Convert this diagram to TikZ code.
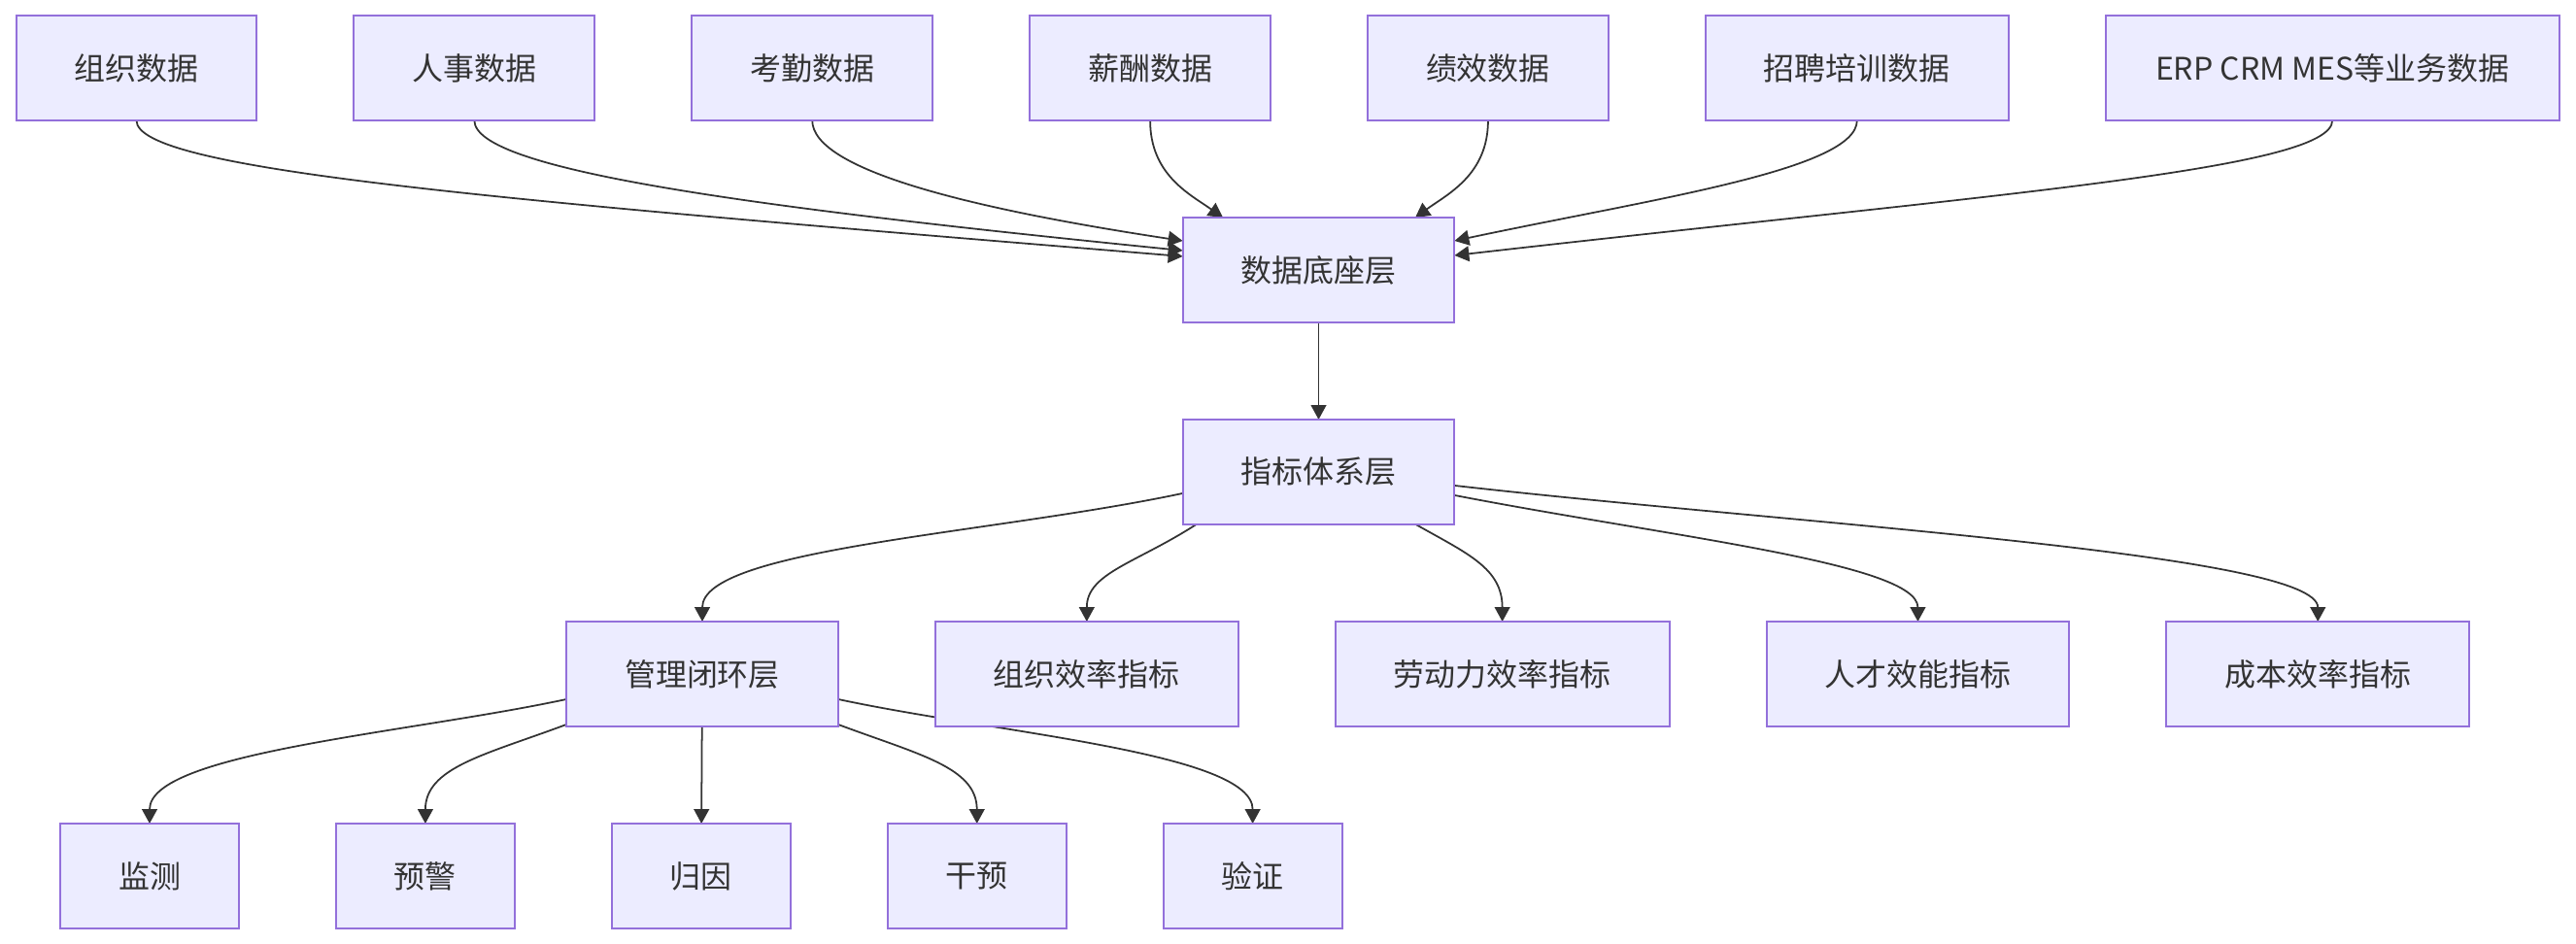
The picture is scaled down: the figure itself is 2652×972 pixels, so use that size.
\documentclass[tikz,border=0pt]{standalone}
\usepackage{fontspec}
\setmainfont{Noto Sans CJK SC}
\usetikzlibrary{arrows.meta, positioning, calc, backgrounds}
\definecolor{boxfill}{HTML}{ECECFF}
\definecolor{boxline}{HTML}{9370DB}
\definecolor{ink}{HTML}{333333}

\begin{document}
\begin{tikzpicture}[
  x=0.02cm, y=-0.02cm,
  node distance=2cm,
  every node/.style={font={\fontsize{18.2pt}{22pt}\selectfont}, text=ink},
  box/.style={draw=boxline, fill=boxfill, line width=1.1pt, minimum height=2.16cm, inner xsep=1.2cm, inner ysep=0pt, outer sep=0pt},
  arr/.style={-{Triangle[length=8.5pt, width=9pt]}, draw=ink, line width=1pt},
]
  \useasboundingbox (0,0) rectangle (2652,972);

  \node[box] (org) at (140.5,70) {组织数据};
  \node[box, right=of org] (hr) {人事数据};
  \node[box, right=of hr] (attend) {考勤数据};
  \node[box, right=of attend] (pay) {薪酬数据};
  \node[box, right=of pay] (perf) {绩效数据};
  \node[box, right=of perf] (recruit) {招聘培训数据};
  \node[box, right=of recruit, inner xsep=0pt, minimum width=9.34cm] (biz) {ERP CRM MES等业务数据};

  \node[box] (base) at (1357.5,278) {数据底座层};
  \node[box, below=of base] (idx) {指标体系层};

  \node[box] (loop) at (723,694) {管理闭环层};
  \node[box, right=of loop] (orgeff) {组织效率指标};
  \node[box, right=of orgeff] (laboreff) {劳动力效率指标};
  \node[box, right=of laboreff] (talent) {人才效能指标};
  \node[box, right=of talent] (cost) {成本效率指标};

  \node[box] (monitor) at (154,902) {监测};
  \node[box, right=of monitor] (alert) {预警};
  \node[box, right=of alert] (cause) {归因};
  \node[box, right=of cause] (act) {干预};
  \node[box, right=of act] (verify) {验证};

  \begin{scope}[on background layer]
    \draw[arr] (org.south) .. controls +(0,51) and +(-718,-59) .. ($(base.west)+(0,-14)$);
    \draw[arr] (hr.south) .. controls +(0,51) and +(-448,-45) .. ($(base.west)+(0,-20)$);
    \draw[arr] (attend.south) .. controls +(0,51) and +(-218,-33) .. ($(base.west)+(0,-30)$);
    \draw[arr] (pay.south) .. controls +(0,56) and +(-34,-24) .. ($(base.north)+(-98.5,0)$);
    \draw[arr] (perf.south) .. controls +(0,56) and +(33,-24) .. ($(base.north)+(99.5,0)$);
    \draw[arr] (recruit.south) .. controls +(0,51) and +(202,-43) .. ($(base.east)+(0,-30)$);
    \draw[arr] (biz.south) .. controls +(0,51) and +(552,-63) .. ($(base.east)+(0,-15)$);

    \draw[arr] (base) -- (idx);

    \draw[arr] ($(idx.west)+(0,22)$) .. controls +(-198,42) and +(0,-75) .. (loop.north);
    \draw[arr] ($(idx.south west)+(14,0)$) .. controls +(-62,40) and +(0,-50) .. (orgeff.north);
    \draw[arr] ($(idx.south)+(100,0)$) .. controls +(53,30) and +(0,-55) .. (laboreff.north);
    \draw[arr] ($(idx.east)+(0,24)$) .. controls +(222,43) and +(0,-60) .. (talent.north);
    \draw[arr] ($(idx.east)+(0,14)$) .. controls +(352,40) and +(0,-70) .. (cost.north);

    \draw[arr] ($(loop.west)+(0,26)$) .. controls +(-163,35) and +(0,-73) .. (monitor.north);
    \draw[arr] ($(loop.south west)+(0,-2)$) .. controls +(-83,31) and +(0,-58) .. (alert.north);
    \draw[arr] (loop) -- (cause);
    \draw[arr] ($(loop.south east)+(0,-2)$) .. controls +(83,31) and +(0,-58) .. (act.north);
    \draw[arr] ($(loop.east)+(0,26)$) .. controls +(163,35) and +(0,-73) .. (verify.north);
  \end{scope}
\end{tikzpicture}
\end{document}
